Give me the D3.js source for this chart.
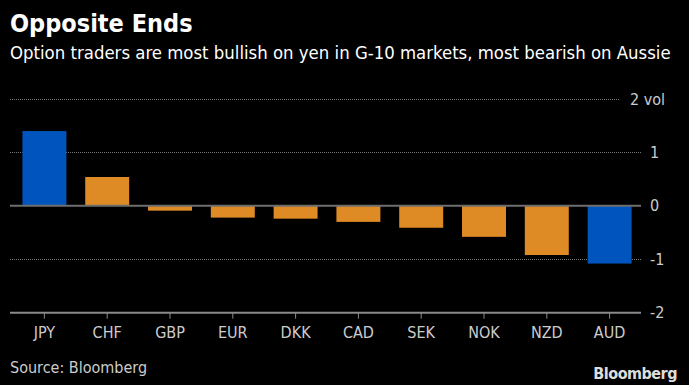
<!DOCTYPE html>
<html>
<head>
<meta charset="utf-8">
<script src="https://cdn.jsdelivr.net/npm/d3@7"></script>
<style>
  body { margin: 0; background: #000; }
  svg { display: block; }
</style>
</head>
<body>
<svg id="chart" width="689" height="385"></svg>
<script>
// currencies and risk-reversal readings (vol)
const currencies = ['JPY', 'CHF', 'GBP', 'EUR', 'DKK', 'CAD', 'SEK', 'NOK', 'NZD', 'AUD'];
const values = [1.40, 0.54, -0.09, -0.22, -0.24, -0.30, -0.41, -0.58, -0.92, -1.08];
const highlighted = ['JPY', 'AUD'];
const yTicks = [2, 1, 0, -1, -2];

const width = 689, height = 385;
const margin = {top: 99, right: 48, bottom: 72, left: 13};
const font = '"DejaVu Sans Condensed", "DejaVu Sans", sans-serif';

const svg = d3.select('#chart');
svg.append('rect').attr('width', width).attr('height', height).attr('fill', '#000');

const x = d3.scaleBand()
    .domain(currencies)
    .range([margin.left, width - margin.right])
    .paddingInner(0.3)
    .paddingOuter(0.15);

const y = d3.scaleLinear()
    .domain([-2, 2])
    .range([height - margin.bottom - 0.3, margin.top]);

// title + subtitle
svg.append('text')
    .attr('x', 10).attr('y', 32)
    .attr('fill', '#fff')
    .style('font-family', font)
    .style('font-weight', 'bold')
    .style('font-size', '25px')
    .text('Opposite Ends');

svg.append('text')
    .attr('x', 10).attr('y', 59)
    .attr('fill', '#fff')
    .style('font-family', font)
    .style('font-size', '18.4px')
    .text('Option traders are most bullish on yen in G-10 markets, most bearish on Aussie');

// gridlines (dotted) - skip 0 and -2, drawn as solid below
const gridRight = width - margin.right;
svg.append('g')
    .selectAll('line')
    .data(yTicks.filter(d => d !== 0 && d !== -2))
    .enter()
    .append('line')
    .attr('x1', margin.left - 3)
    .attr('x2', d => d === 2 ? gridRight - 21 : gridRight)
    .attr('y1', d => Math.round(y(d)) + 0.5)
    .attr('y2', d => Math.round(y(d)) + 0.5)
    .attr('stroke', '#777')
    .attr('stroke-width', 1)
    .attr('stroke-dasharray', '1,1');

// bars
svg.append('g')
    .selectAll('rect')
    .data(currencies)
    .enter()
    .append('rect')
    .attr('x', d => x(d))
    .attr('width', x.bandwidth())
    .attr('y', (d, i) => y(Math.max(0, values[i])))
    .attr('height', (d, i) => Math.abs(y(values[i]) - y(0)))
    .attr('fill', d => highlighted.includes(d) ? '#0054bd' : '#de8b26');

// zero line
svg.append('line')
    .attr('x1', margin.left - 3).attr('x2', gridRight)
    .attr('y1', y(0)).attr('y2', y(0))
    .attr('stroke', '#6e6e6e')
    .attr('stroke-width', 2);

// right-hand y labels
svg.append('g')
    .selectAll('text')
    .data(yTicks)
    .enter()
    .append('text')
    .attr('x', d => d === 2 ? gridRight - 11 : gridRight + 9)
    .attr('y', d => y(d))
    .attr('dy', '0.35em')
    .attr('fill', '#ccc')
    .style('font-family', font)
    .style('font-size', '16px')
    .text(d => d === 2 ? '2 vol' : d);

// x axis
const xAxis = svg.append('g')
    .attr('transform', 'translate(0,' + y(-2) + ')')
    .call(d3.axisBottom(x).tickSize(6).tickPadding(8).tickSizeOuter(0));
xAxis.select('.domain')
    .attr('d', 'M' + (margin.left - 3) + ',0H' + gridRight)
    .attr('stroke', '#8a8a8a')
    .attr('stroke-width', 2);
xAxis.selectAll('.tick line').attr('stroke', '#8a8a8a');
xAxis.selectAll('.tick text')
    .attr('fill', '#ccc')
    .style('font-family', font)
    .style('font-size', '16px');

// footer
svg.append('text')
    .attr('x', 10).attr('y', 373)
    .attr('fill', '#ccc')
    .style('font-family', font)
    .style('font-size', '16px')
    .text('Source: Bloomberg');

svg.append('text')
    .attr('x', 677).attr('y', 379)
    .attr('text-anchor', 'end')
    .attr('fill', '#ddd')
    .style('font-family', '"Liberation Sans Narrow", "DejaVu Sans Condensed", sans-serif')
    .style('font-weight', 'bold')
    .style('font-size', '16px')
    .style('letter-spacing', '-0.5px')
    .text('Bloomberg');
</script>
</body>
</html>
